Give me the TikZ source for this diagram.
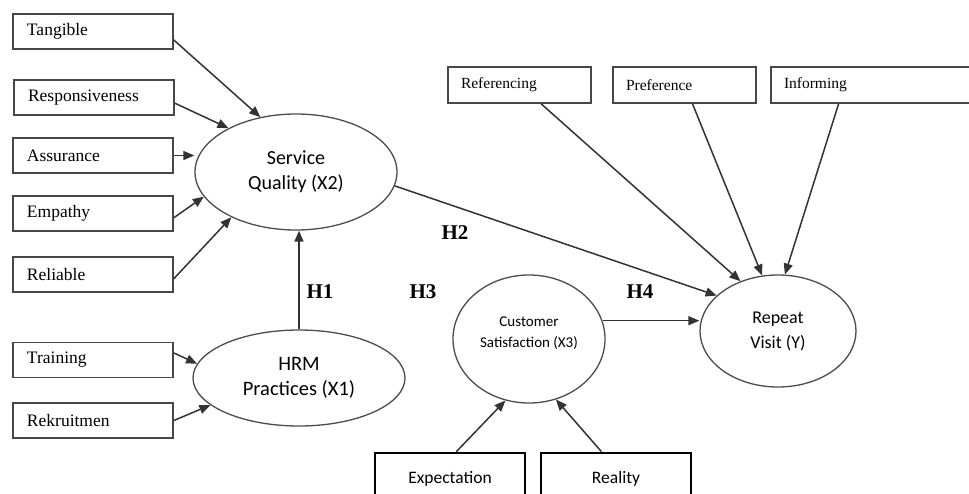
\documentclass[tikz,border=0pt]{standalone}
\usepackage{fontspec}
\setmainfont{Liberation Serif}
\newfontfamily\carl{Carlito}
\usetikzlibrary{shapes.geometric,arrows.meta}
\begin{document}
\begin{tikzpicture}[x=1pt,y=-1pt,
  lbox/.style={draw=black!72,line width=1.6pt,rectangle,minimum width=160pt,minimum height=35pt,
    inner xsep=14pt,text width=132pt,align=left,font=\fontsize{17.5}{20}\selectfont},
  tbox/.style={draw=black!72,line width=1.6pt,rectangle,minimum height=36pt,
    inner xsep=13pt,align=left,font=\fontsize{15.5}{18}\selectfont},
  bbox/.style={draw=black,line width=2.6pt,rectangle,minimum width=150pt,minimum height=52pt,
    inner sep=0pt,font=\carl\fontsize{17.5}{21}\selectfont},
  ell/.style={draw=black!70,line width=1.3pt,ellipse,inner sep=0pt,align=center},
  arr/.style={draw=black!80,line width=1.5pt,-{Triangle[length=11pt,width=9pt]}},
  hyp/.style={font=\bfseries\fontsize{21}{24}\selectfont}]
\useasboundingbox (0,0) rectangle (969,493);
\clip (0,0) rectangle (969,493);
\fill[white] (0,0) rectangle (969,493);
% left boxes
\node[lbox] (tang) at (93,31.5) {Tangible};
\node[lbox] (resp) at (94,97.5) {Responsiveness};
\node[lbox] (assu) at (93,155.5) {Assurance};
\node[lbox] (emp) at (93,213.5) {Empathy};
\node[lbox] (rel) at (93,274.5) {Reliable};
\node[lbox] (trai) at (93,360) {Training};
\node[lbox] (rekr) at (93,420.5) {Rekruitmen};
% top boxes
\node[tbox,minimum width=143pt,text width=117pt] (ref) at (519.5,85) {Referencing};
\node[tbox,minimum width=143pt,text width=117pt] (pref) at (684.5,85) {Preference};
\node[tbox,minimum width=209pt,text width=183pt] (inf) at (875.5,85) {Informing};
% bottom boxes
\node[bbox] (exp) at (450,479) {Expectation};
\node[bbox] (real) at (616,479) {Reality};
% ellipses
\node[ell,minimum width=202pt,minimum height=116pt,font=\carl\fontsize{20}{25}\selectfont] (sq) at (296,172) {Service\\Quality (X2)};
\node[ell,minimum width=212pt,minimum height=96pt,font=\carl\fontsize{20.5}{25}\selectfont] (hrm) at (299,378) {HRM\\Practices (X1)};
\node[ell,minimum width=152pt,minimum height=128pt] (cs) at (529,339) {};
\node[align=center,font=\carl\fontsize{15}{21}\selectfont] (cstext) at (529,333) {Customer\\Satisfaction (X3)};
\node[ell,minimum width=156pt,minimum height=112pt,font=\carl\fontsize{18}{25}\selectfont] (rv) at (778,331) {Repeat\\Visit (Y)};
% hypothesis labels
\node[hyp] (h1) at (320,292) {H1};
\node[hyp] (h2) at (455,233) {H2};
\node[hyp] (h3) at (423,292) {H3};
\node[hyp] (h4) at (640,292) {H4};
% arrows
\draw[arr] (tang.-6) -- (sq.123);
\draw[arr] (resp.-4) -- (sq.147);
\draw[arr] (assu.east) -- (sq.west |- assu.east);
\draw[arr] (emp.-3) -- (sq.195);
\draw[arr] (rel.-3) -- (sq.215);
\draw[arr] (hrm.north) -- (hrm.north |- sq.south);
\draw[arr] (trai.5) -- (hrm.172);
\draw[arr] (rekr.east) -- (hrm.197);
\draw[arr] (sq.-8) -- (rv.150);
\draw[arr] (ref.-41) -- (rv.127);
\draw[arr] (pref.-67) -- (rv.106);
\draw[arr] (inf.207) -- (rv.83);
\draw[arr] (cs.14) -- (cs.14 -| rv.west);
\draw[arr] (exp.77) -- (cs.249);
\draw[arr] (real.118) -- (cs.294);
\end{tikzpicture}
\end{document}
